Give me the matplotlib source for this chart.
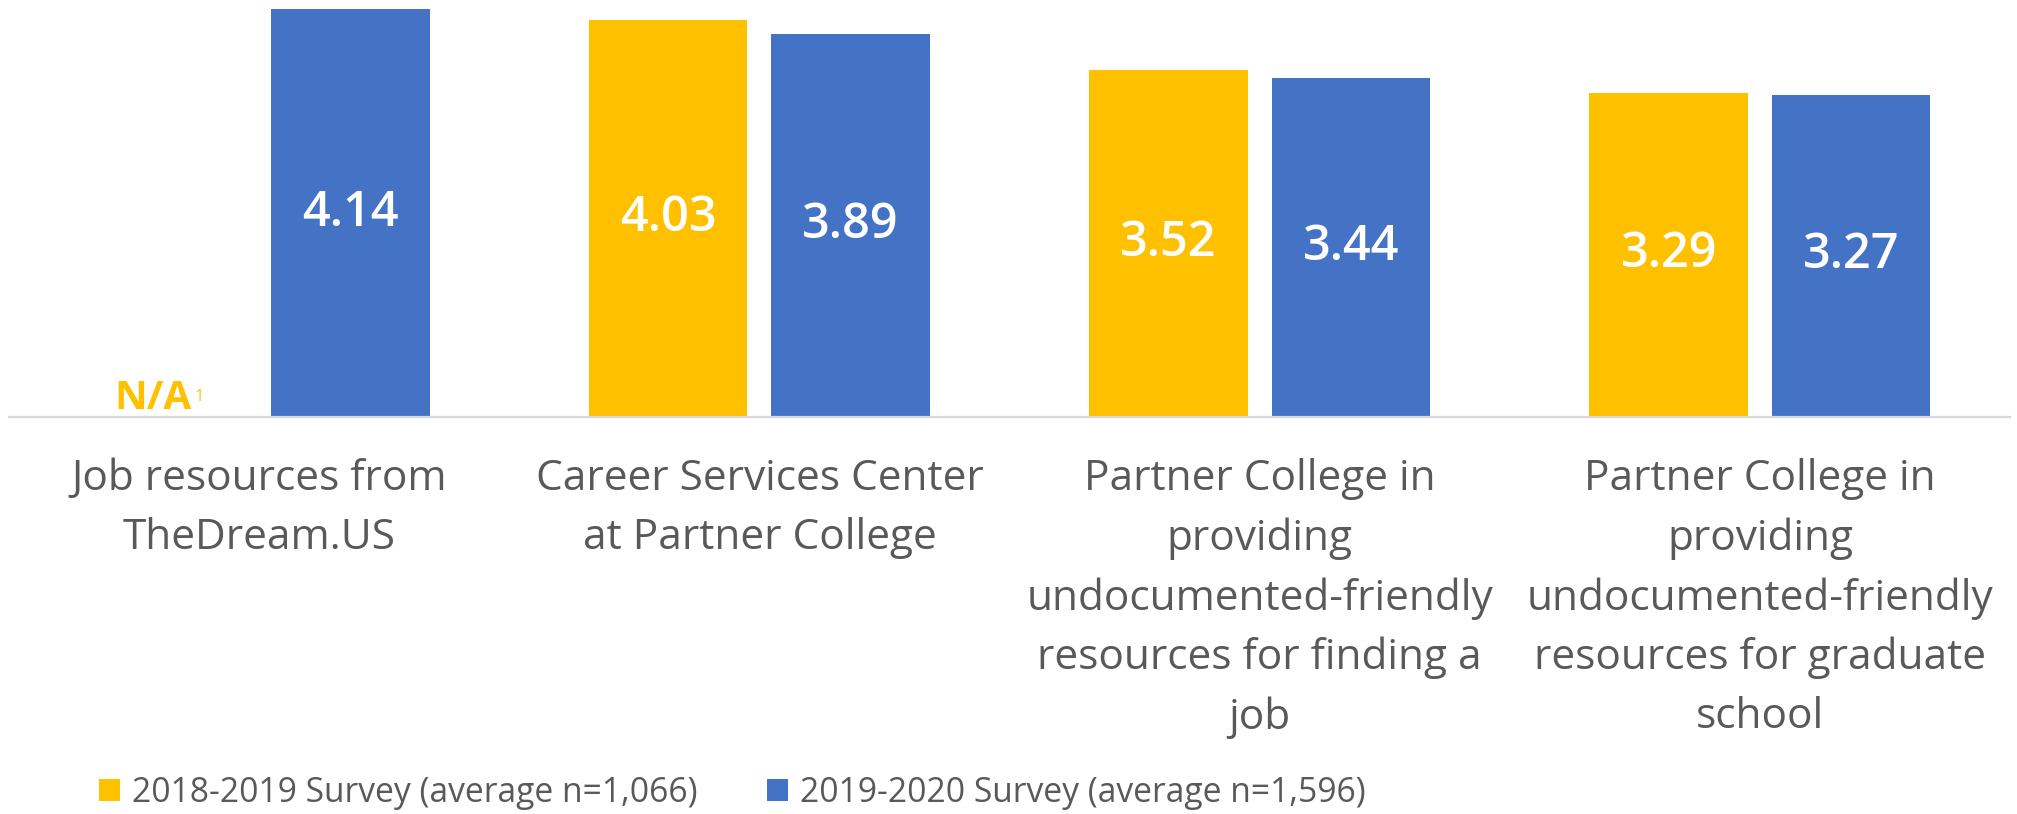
import matplotlib
matplotlib.use("Agg")
import matplotlib.pyplot as plt
from matplotlib.patches import Patch
from matplotlib.transforms import blended_transform_factory
import numpy as np

categories = [
    "Job resources from\nTheDream.US",
    "Career Services Center\nat Partner College",
    "Partner College in\nproviding\nundocumented-friendly\nresources for finding a\njob",
    "Partner College in\nproviding\nundocumented-friendly\nresources for graduate\nschool",
]
survey_2018 = [None, 4.03, 3.52, 3.29]
survey_2019 = [4.14, 3.89, 3.44, 3.27]
series_labels = ["2018-2019 Survey (average n=1,066)", "2019-2020 Survey (average n=1,596)"]
na_label = "N/A"
na_footnote = "1"

YELLOW = "#FFC000"
BLUE = "#4472C4"
GRAY = "#595959"

plt.rcParams['font.family'] = ['Open Sans', 'DejaVu Sans']

W, H = 2017, 814
fig = plt.figure(figsize=(W / 100, H / 100), dpi=100)
ax = fig.add_axes([9 / W, (H - 417) / H, 2001 / W, 417 / H])

x = np.arange(len(categories))
bw = 0.3167
off = 0.1823

y18 = [v if v is not None else 0 for v in survey_2018]
bars18 = ax.bar(x - off, y18, width=bw, color=YELLOW, zorder=2)
bars19 = ax.bar(x + off, survey_2019, width=bw, color=BLUE, zorder=2)

for i, v in enumerate(survey_2018):
    if v is None:
        bars18[i].set_visible(False)
        ax.text(x[i] - 0.135, 0.08, na_label, ha='right', va='baseline',
                color=YELLOW, fontsize=29, fontweight='bold')
        ax.text(x[i] - 0.129, 0.16, na_footnote, ha='left', va='baseline',
                color=YELLOW, fontsize=12)
    else:
        ax.text(x[i] - off, v / 2, f"{v:.2f}", ha='center', va='center',
                color='white', fontsize=35, fontweight='semibold')
for i, v in enumerate(survey_2019):
    ax.text(x[i] + off, v / 2, f"{v:.2f}", ha='center', va='center',
            color='white', fontsize=35, fontweight='semibold')

ax.set_xlim(-0.5, len(categories) - 0.5)
ax.set_ylim(0, 4.234)
for s in ['top', 'right', 'left']:
    ax.spines[s].set_visible(False)
ax.spines['bottom'].set_color('#D9D9D9')
ax.spines['bottom'].set_linewidth(1.6)
ax.set_yticks([])
ax.set_xticks([])

trans = blended_transform_factory(ax.transData, ax.transAxes)
for i, c in enumerate(categories):
    ax.text(x[i], -0.099, c, transform=trans, ha='center', va='top',
            fontsize=30.5, color=GRAY, linespacing=1.53, multialignment='center')

handles = [Patch(facecolor=YELLOW, edgecolor='none'), Patch(facecolor=BLUE, edgecolor='none')]
leg = fig.legend(handles, series_labels, loc='center left',
                 bbox_to_anchor=(99 / W, 21 / H), ncol=2, frameon=False,
                 fontsize=24.2, handlelength=0.63, handleheight=0.63,
                 handletextpad=0.36, columnspacing=2.05, borderpad=0, borderaxespad=0)
for t in leg.get_texts():
    t.set_color(GRAY)

fig.savefig("out.png", dpi=100)
